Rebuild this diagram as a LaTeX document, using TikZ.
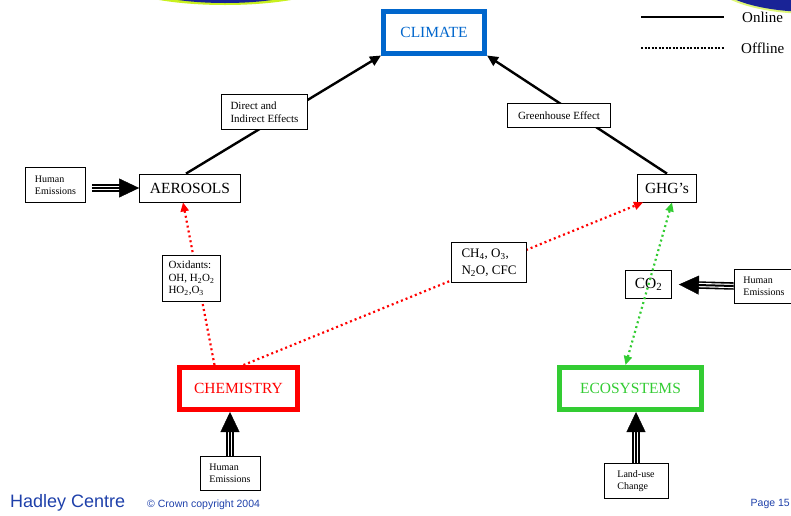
\documentclass[tikz,border=0pt]{standalone}
\usepackage{fontspec}
\setmainfont{Liberation Serif}
\newfontfamily\footfont{Liberation Sans}
\usetikzlibrary{arrows.meta}
\definecolor{climblue}{RGB}{0,102,204}
\definecolor{ecogreen}{RGB}{51,204,51}
\definecolor{hadblue}{RGB}{30,64,170}
\definecolor{barlime}{RGB}{200,240,30}
\definecolor{barblue}{RGB}{25,35,150}
\newcommand\fsz[2]{\fontsize{#1}{#2}\selectfont}
\tikzset{
  thin box/.style={draw, line width=0.8pt, inner sep=0pt, fill=white},
  main box/.style={draw, line width=5pt, inner sep=0pt, outer sep=2.5pt, fill=white, font=\fsz{15.5}{18}},
  online/.style={line width=2.4pt, -{Triangle[length=11pt,width=10pt]}},
  offline/.style={line width=2.2pt, dash pattern=on 2pt off 3pt},
  feed/.style={
    postaction={draw, line width=7.5pt, shorten >=18pt},
    postaction={draw, white, line width=4.3pt, shorten >=18pt},
    postaction={draw, line width=2pt, shorten >=18pt},
    postaction={draw, line width=0.4pt, -{Triangle[length=20pt,width=19pt]}}
  }
}

\begin{document}
\begin{tikzpicture}[x=1pt, y=-1pt]
  \useasboundingbox (0,0) rectangle (791,515);
  % slide decoration at the top
  \begin{scope}
    \clip (0,0) rectangle (791,515);
    \fill[barlime] (225,-20) ellipse (110 and 25);
    \fill[barblue] (225,-20) ellipse (95 and 23);
    \fill[barlime!60!white] (812,-20) ellipse (100 and 34);
    \fill[barblue] (812,-20) ellipse (97 and 32);
  \end{scope}

  % main boxes
  \node[main box, draw=climblue, text=climblue, minimum width=101pt, minimum height=42pt] (clim) at (434,32) {CLIMATE};
  \node[main box, draw=red, text=red, minimum width=118pt, minimum height=42pt] (chem) at (238.5,388.5) {CHEMISTRY};
  \node[main box, draw=ecogreen, text=ecogreen, minimum width=142pt, minimum height=42pt] (eco) at (630.5,388.5) {ECOSYSTEMS};
  \node[thin box, font=\fsz{15.5}{18}, minimum width=101pt, minimum height=28pt] (aero) at (190,188) {AEROSOLS};
  \node[thin box, font=\fsz{15.5}{18}, minimum width=59pt, minimum height=28pt] (ghg) at (667,188) {GHG's};
  \node[thin box, font=\fsz{15.5}{18}, minimum width=46pt, minimum height=28pt] (co2) at (648.5,284.5) {CO\textsubscript{2}};

  % input boxes
  \node[thin box, font=\fsz{10}{12}, align=left, minimum width=60pt, minimum height=35pt] (hemA) at (55.5,185) {Human\\Emissions};
  \node[thin box, font=\fsz{10}{12}, align=left, minimum width=60pt, minimum height=34pt] (hemB) at (764,286) {Human\\Emissions};
  \node[thin box, font=\fsz{10}{12}, align=left, minimum width=60pt, minimum height=34pt] (hemC) at (230,473.5) {Human\\Emissions};
  \node[thin box, font=\fsz{10}{12}, align=left, minimum width=64pt, minimum height=35pt] (luc) at (636,481) {Land-use\\Change};

  % online links
  \draw[online] ([xshift=-4pt]aero.north) -- (clim.south west);
  \draw[online] (ghg.north) -- (clim.south east);

  % offline links
  \draw[offline, red, -{Triangle[length=9pt,width=8pt]}] ([xshift=-24pt]chem.north) -- ([xshift=-7pt]aero.south);
  \draw[offline, red, -{Triangle[length=9pt,width=8pt]}] ([xshift=5pt]chem.north) -- ([xshift=-24pt]ghg.south);
  \draw[offline, ecogreen, {Triangle[length=9pt,width=8pt]}-{Triangle[length=9pt,width=8pt]}] ([xshift=-5pt]eco.north) -- ([xshift=5pt]ghg.south);

  % emissions and land use
  \path[feed, shorten <=6pt] (hemA.east |- aero.west) -- (aero.west);
  \path[feed] (hemB.west) -- ([xshift=7pt]co2.east);
  \path[feed] (hemC.north) -- (hemC.north |- chem.south);
  \path[feed] (luc.north) -- (luc.north |- eco.south);

  % labels on the links
  \node[thin box, font=\fsz{11}{13}, align=left, minimum width=86pt, minimum height=35pt] (dir) at (264.5,112) {Direct and\\Indirect Effects};
  \node[thin box, font=\fsz{11}{13}, minimum width=103pt, minimum height=24pt] (ghe) at (559,115.5) {Greenhouse Effect};
  \node[thin box, font=\fsz{11}{12.5}, align=left, minimum width=58pt, minimum height=46pt] (oxi) at (191.5,278.5) {Oxidants:\\OH, H\textsubscript{2}O\textsubscript{2}\\HO\textsubscript{2},O\textsubscript{3}};
  \node[thin box, font=\fsz{13}{17}, align=left, minimum width=75pt, minimum height=40pt] (gas) at (489,262.5) {CH\textsubscript{4}, O\textsubscript{3},\\N\textsubscript{2}O, CFC};

  % legend
  \coordinate (onA) at (641,17);
  \coordinate (onB) at (724,17);
  \coordinate (offA) at (641,48);
  \coordinate (offB) at (724,48);
  \draw[line width=2pt] (onA) -- (onB);
  \draw[line width=2pt, dash pattern=on 2pt off 1.5pt] (offA) -- (offB);
  \node[anchor=west, inner sep=0pt, font=\fsz{15}{17}] (onlab) at (742,17) {Online};
  \node[anchor=west, inner sep=0pt, font=\fsz{15}{17}] (offlab) at (741,48) {Offline};

  % footer
  \node[anchor=base west, inner sep=0pt, text=hadblue, font=\footfont\fsz{18}{20}] (hadley) at (10,507) {Hadley Centre};
  \node[anchor=base west, inner sep=0pt, text=hadblue, font=\footfont\fsz{10.5}{12}] (crown) at (147,507) {© Crown copyright 2004};
  \node[anchor=base east, inner sep=0pt, text=hadblue, font=\footfont\fsz{10.5}{12}] (page) at (790,506) {Page 15};
\end{tikzpicture}
\end{document}
